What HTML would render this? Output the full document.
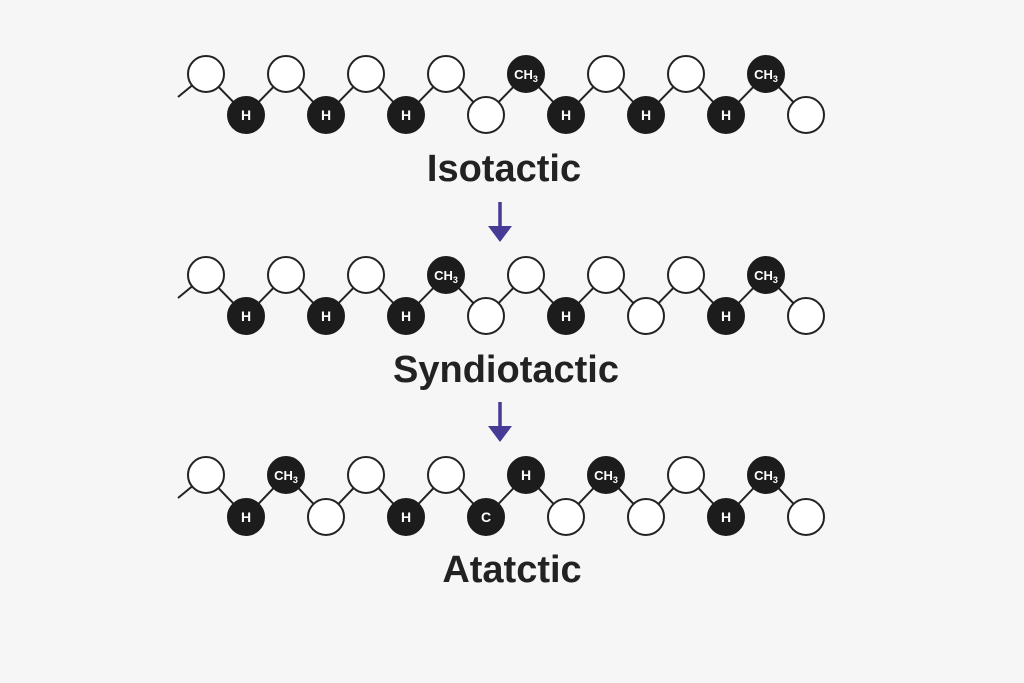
<!DOCTYPE html>
<html><head><meta charset="utf-8"><style>
html,body{margin:0;padding:0;background:#f6f6f6;}
svg{display:block}
.w{fill:#fff;stroke:#222;stroke-width:2}
.b{fill:#1c1c1c;stroke:#1c1c1c;stroke-width:2}
.t{fill:#fff;font-family:"Liberation Sans",sans-serif;font-weight:bold;font-size:14px;text-anchor:middle}
.c{fill:#fff;font-family:"Liberation Sans",sans-serif;font-weight:bold;font-size:13px;text-anchor:middle}
.s{font-size:9px}
.l{fill:none;stroke:#222;stroke-width:2}
.lab{fill:#222;font-family:"Liberation Sans",sans-serif;font-weight:bold;font-size:38px;text-anchor:middle}
.ar{stroke:#463c96;stroke-width:3.5;fill:none}
.ah{fill:#463c96}
</style></head><body>
<svg width="1024" height="683" viewBox="0 0 1024 683">
<!-- Row 1 -->
<polyline class="l" points="178,97 206,74 246,115 286,74 326,115 366,74 406,115 446,74 486,115 526,74 566,115 606,74 646,115 686,74 726,115 766,74 806,115"/>
<circle class="w" cx="206" cy="74" r="18"/><circle class="w" cx="286" cy="74" r="18"/><circle class="w" cx="366" cy="74" r="18"/><circle class="w" cx="446" cy="74" r="18"/>
<circle class="b" cx="526" cy="74" r="18"/><text class="c" x="526" y="79">CH<tspan class="s" dy="3">3</tspan></text>
<circle class="w" cx="606" cy="74" r="18"/><circle class="w" cx="686" cy="74" r="18"/>
<circle class="b" cx="766" cy="74" r="18"/><text class="c" x="766" y="79">CH<tspan class="s" dy="3">3</tspan></text>
<circle class="b" cx="246" cy="115" r="18"/><text class="t" x="246" y="120">H</text>
<circle class="b" cx="326" cy="115" r="18"/><text class="t" x="326" y="120">H</text>
<circle class="b" cx="406" cy="115" r="18"/><text class="t" x="406" y="120">H</text>
<circle class="w" cx="486" cy="115" r="18"/>
<circle class="b" cx="566" cy="115" r="18"/><text class="t" x="566" y="120">H</text>
<circle class="b" cx="646" cy="115" r="18"/><text class="t" x="646" y="120">H</text>
<circle class="b" cx="726" cy="115" r="18"/><text class="t" x="726" y="120">H</text>
<circle class="w" cx="806" cy="115" r="18"/>
<text class="lab" x="504" y="181">Isotactic</text>
<line class="ar" x1="500" y1="202" x2="500" y2="228"/><polygon class="ah" points="488,226 512,226 500,242"/>
<!-- Row 2 -->
<polyline class="l" points="178,298 206,275 246,316 286,275 326,316 366,275 406,316 446,275 486,316 526,275 566,316 606,275 646,316 686,275 726,316 766,275 806,316"/>
<circle class="w" cx="206" cy="275" r="18"/><circle class="w" cx="286" cy="275" r="18"/><circle class="w" cx="366" cy="275" r="18"/>
<circle class="b" cx="446" cy="275" r="18"/><text class="c" x="446" y="280">CH<tspan class="s" dy="3">3</tspan></text>
<circle class="w" cx="526" cy="275" r="18"/><circle class="w" cx="606" cy="275" r="18"/><circle class="w" cx="686" cy="275" r="18"/>
<circle class="b" cx="766" cy="275" r="18"/><text class="c" x="766" y="280">CH<tspan class="s" dy="3">3</tspan></text>
<circle class="b" cx="246" cy="316" r="18"/><text class="t" x="246" y="321">H</text>
<circle class="b" cx="326" cy="316" r="18"/><text class="t" x="326" y="321">H</text>
<circle class="b" cx="406" cy="316" r="18"/><text class="t" x="406" y="321">H</text>
<circle class="w" cx="486" cy="316" r="18"/>
<circle class="b" cx="566" cy="316" r="18"/><text class="t" x="566" y="321">H</text>
<circle class="w" cx="646" cy="316" r="18"/>
<circle class="b" cx="726" cy="316" r="18"/><text class="t" x="726" y="321">H</text>
<circle class="w" cx="806" cy="316" r="18"/>
<text class="lab" x="506" y="382">Syndiotactic</text>
<line class="ar" x1="500" y1="402" x2="500" y2="428"/><polygon class="ah" points="488,426 512,426 500,442"/>
<!-- Row 3 -->
<polyline class="l" points="178,498 206,475 246,517 286,475 326,517 366,475 406,517 446,475 486,517 526,475 566,517 606,475 646,517 686,475 726,517 766,475 806,517"/>
<circle class="w" cx="206" cy="475" r="18"/>
<circle class="b" cx="286" cy="475" r="18"/><text class="c" x="286" y="480">CH<tspan class="s" dy="3">3</tspan></text>
<circle class="w" cx="366" cy="475" r="18"/><circle class="w" cx="446" cy="475" r="18"/>
<circle class="b" cx="526" cy="475" r="18"/><text class="t" x="526" y="480">H</text>
<circle class="b" cx="606" cy="475" r="18"/><text class="c" x="606" y="480">CH<tspan class="s" dy="3">3</tspan></text>
<circle class="w" cx="686" cy="475" r="18"/>
<circle class="b" cx="766" cy="475" r="18"/><text class="c" x="766" y="480">CH<tspan class="s" dy="3">3</tspan></text>
<circle class="b" cx="246" cy="517" r="18"/><text class="t" x="246" y="522">H</text>
<circle class="w" cx="326" cy="517" r="18"/>
<circle class="b" cx="406" cy="517" r="18"/><text class="t" x="406" y="522">H</text>
<circle class="b" cx="486" cy="517" r="18"/><text class="t" x="486" y="522">C</text>
<circle class="w" cx="566" cy="517" r="18"/><circle class="w" cx="646" cy="517" r="18"/>
<circle class="b" cx="726" cy="517" r="18"/><text class="t" x="726" y="522">H</text>
<circle class="w" cx="806" cy="517" r="18"/>
<text class="lab" x="512" y="582">Atatctic</text>
</svg>
</body></html>
